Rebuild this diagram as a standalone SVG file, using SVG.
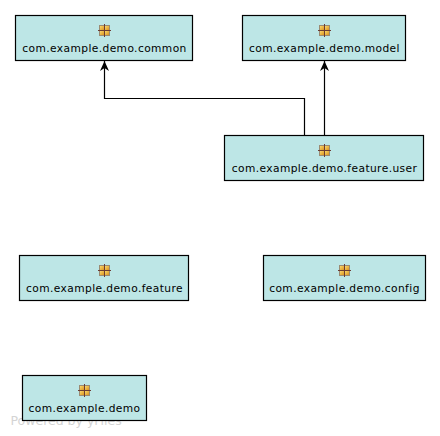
<svg xmlns="http://www.w3.org/2000/svg" width="440" height="436" viewBox="0 0 440 436">
<style>
.box{fill:#bde6e6;stroke:#000;stroke-width:1.200}
.lbl{font-family:"DejaVu Sans",sans-serif;font-size:10.670px;letter-spacing:.4px;fill:#000;text-anchor:middle}
.edge{fill:none;stroke:#000;stroke-width:1.200}
.wm{font-family:"DejaVu Sans",sans-serif;font-size:12.500px;fill:#d4d4d4}
</style>
<defs>
<marker id="arrow" markerUnits="userSpaceOnUse" markerWidth="12" markerHeight="12" refX="10" refY="5" orient="auto">
<path d="M0 .5L10 5L0 9.500L3 5Z" fill="#000"/>
</marker>
<linearGradient id="g" x1="0" y1="0" x2="1" y2="1"><stop offset="0" stop-color="#f9d86c"/><stop offset="1" stop-color="#dc9420"/></linearGradient>
<g id="ic">
<rect x="-5.500" y="-5.500" width="11" height="11" fill="#9a8a72"/>
<rect x="-4.500" y="-4.500" width="4" height="4" fill="url(#g)"/>
<rect x=".5" y="-4.500" width="4" height="4" fill="url(#g)"/>
<rect x="-4.500" y=".5" width="4" height="4" fill="url(#g)"/>
<rect x=".5" y=".5" width="4" height="4" fill="url(#g)"/>
<path d="M-6.500 0H6.500M0-6.500V6.500" stroke="#6a3c34" stroke-width="1" fill="none"/>
</g>
</defs>
<text class="wm" x="10.500" y="424.500">Powered by yFiles</text>
<g id="connectors">
<path class="edge" d="M304.500 135.500V98.500H104.500V61" marker-end="url(#arrow)"/>
<path class="edge" d="M324.500 135.500V61" marker-end="url(#arrow)"/>
</g>
<g id="n-common"><rect class="box" x="15.500" y="15.500" width="177" height="45"/><use href="#ic" x="104.500" y="30.500"/><text class="lbl" x="104.500" y="52">com.example.demo.common</text></g>
<g id="n-model"><rect class="box" x="242.500" y="15.500" width="163" height="45"/><use href="#ic" x="324.500" y="30.500"/><text class="lbl" x="324.500" y="52">com.example.demo.model</text></g>
<g id="n-user"><rect class="box" x="224.500" y="135.500" width="199" height="45"/><use href="#ic" x="324.500" y="150.500"/><text class="lbl" x="324.500" y="172">com.example.demo.feature.user</text></g>
<g id="n-feature"><rect class="box" x="19.500" y="255.500" width="169" height="45"/><use href="#ic" x="104.500" y="270.500"/><text class="lbl" x="104.500" y="292">com.example.demo.feature</text></g>
<g id="n-config"><rect class="box" x="263.500" y="255.500" width="162" height="45"/><use href="#ic" x="344.500" y="270.500"/><text class="lbl" x="344.500" y="292">com.example.demo.config</text></g>
<g id="n-demo"><rect class="box" x="22.500" y="375.500" width="124" height="45"/><use href="#ic" x="84.500" y="390.500"/><text class="lbl" x="84.500" y="412">com.example.demo</text></g>
</svg>
